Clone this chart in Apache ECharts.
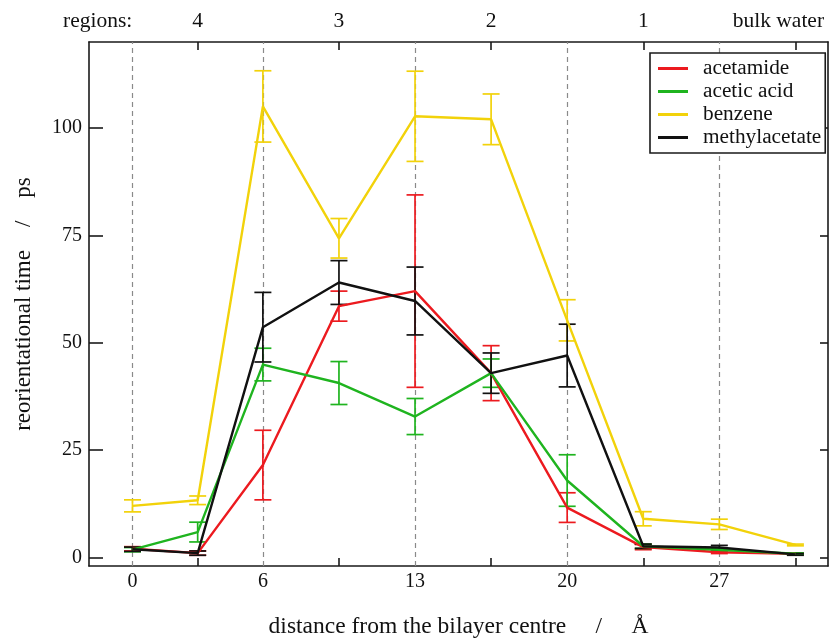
<!DOCTYPE html>
<html>
<head>
<meta charset="utf-8">
<script src="https://cdn.jsdelivr.net/npm/echarts@6/dist/echarts.min.js"></script>
<style>html,body{margin:0;padding:0;background:#fff}#c{width:830px;height:639px}</style>
</head>
<body>
<div id="c"></div>
<script>
// distance from bilayer centre (Å)
const xs = [0, 3, 6, 9.5, 13, 16.5, 20, 23.5, 27, 30.5];
const seriesNames = ['acetamide', 'acetic acid', 'benzene', 'methylacetate'];
// reorientational time (ps)
const acetamide     = [2.0, 1.0, 21.5, 58.5, 62.0, 42.9, 11.6, 2.4, 1.2, 0.85];
const acetamideErr  = [0.5, 0.5, 8.1, 3.5, 22.4, 6.4, 3.45, 0.6, 0.3, 0.2];
const aceticAcid    = [1.8, 5.9, 44.9, 40.6, 32.8, 42.9, 17.9, 2.6, 1.8, 0.85];
const aceticAcidErr = [0.5, 2.3, 3.8, 5.0, 4.2, 3.3, 6.0, 0.5, 0.3, 0.2];
const benzene       = [12.0, 13.3, 105.0, 74.3, 102.7, 102.0, 55.2, 9.0, 7.7, 2.9];
const benzeneErr    = [1.4, 1.0, 8.3, 4.6, 10.5, 5.9, 4.8, 1.65, 1.2, 0.2];
const methylacetate = [1.9, 1.0, 53.6, 64.0, 59.7, 42.9, 47.0, 2.6, 2.3, 0.7];
const methylacetateErr = [0.5, 0.5, 8.1, 5.1, 7.9, 4.7, 7.3, 0.5, 0.5, 0.2];

// axis ticks / labels
const xLabelValues = [0, 6, 13, 20, 27];
const xTickValues = [3, 9.5, 16.5, 23.5, 30.5];
const regionValues = [-1.6, 3, 9.5, 16.5, 23.5, 30.5];
const regionLabels = ['regions:', '4', '3', '2', '1', 'bulk water'];
const yTickValues = [0, 25, 50, 75, 100];
const dashedLines = [0, 6, 13, 20, 27];

const colors = ['#ec1a1f', '#1fb41f', '#f2d20a', '#111111'];
const values = [acetamide, aceticAcid, benzene, methylacetate];
const errs = [acetamideErr, aceticAcidErr, benzeneErr, methylacetateErr];

const FONT = '"Liberation Serif", "DejaVu Serif", serif';
const chart = echarts.init(document.getElementById('c'), null, {renderer: 'canvas'});

const series = [];
seriesNames.forEach((name, k) => {
  series.push({
    name: name + ' error',
    type: 'custom',
    xAxisIndex: 0, yAxisIndex: 0,
    silent: true,
    z: 2 + k,
    data: xs.map((x, i) => [x, values[k][i] - errs[k][i], values[k][i] + errs[k][i]]),
    encode: {x: 0, y: [1, 2]},
    renderItem: function (params, api) {
      const x = api.value(0);
      const lo = api.coord([x, api.value(1)]);
      const hi = api.coord([x, api.value(2)]);
      const w = 8.5;
      const st = {stroke: colors[k], lineWidth: 1.7, fill: null};
      return {type: 'group', children: [
        {type: 'line', shape: {x1: lo[0], y1: lo[1], x2: hi[0], y2: hi[1]}, style: st},
        {type: 'line', shape: {x1: hi[0] - w, y1: hi[1], x2: hi[0] + w, y2: hi[1]}, style: st},
        {type: 'line', shape: {x1: lo[0] - w, y1: lo[1], x2: lo[0] + w, y2: lo[1]}, style: st}
      ]};
    }
  });
});
seriesNames.forEach((name, k) => {
  const s = {
    name: name,
    type: 'line',
    xAxisIndex: 0, yAxisIndex: 0,
    data: xs.map((x, i) => [x, values[k][i]]),
    showSymbol: false,
    symbol: 'none',
    z: 10 + k,
    lineStyle: {color: colors[k], width: 2.4},
    itemStyle: {color: colors[k]},
    animation: false
  };
  if (k === 0) {
    s.markLine = {
      silent: true,
      symbol: ['none', 'none'],
      label: {show: false},
      z: 1,
      lineStyle: {color: '#8a8a8a', type: [5, 4], width: 1.2},
      data: dashedLines.map(v => ({xAxis: v}))
    };
  }
  series.push(s);
});

const axisLineStyle = {color: '#1a1a1a', width: 1.6};
const option = {
  animation: false,
  backgroundColor: '#ffffff',
  textStyle: {fontFamily: FONT},
  grid: {left: 89, right: 2, top: 42, bottom: 73, containLabel: false, outerBoundsMode: 'none'},
  legend: {
    data: seriesNames,
    orient: 'vertical',
    left: 650, top: 53,
    backgroundColor: '#ffffff',
    borderColor: '#1a1a1a',
    borderWidth: 1.6,
    borderRadius: 0,
    padding: [5, 4, 5, 8],
    itemGap: 2,
    itemWidth: 30,
    itemHeight: 3,
    icon: 'rect',
    textStyle: {fontFamily: FONT, fontSize: 21.3, color: '#111', lineHeight: 21, padding: [0, 0, 0, 10]}
  },
  xAxis: [
    {
      type: 'value', position: 'bottom', min: -2, max: 32,
      name: 'distance from the bilayer centre     /     Å',
      nameLocation: 'middle', nameGap: 49,
      nameTextStyle: {fontFamily: FONT, fontSize: 23.5, color: '#111'},
      axisLine: {show: true, onZero: false, lineStyle: axisLineStyle},
      axisTick: {show: true, inside: true, length: 8, customValues: xTickValues, lineStyle: axisLineStyle},
      axisLabel: {show: true, customValues: xLabelValues, fontFamily: FONT, fontSize: 20, color: '#111', margin: 6},
      splitLine: {show: false}
    },
    {
      type: 'value', position: 'top', min: -2, max: 32,
      axisLine: {show: true, onZero: false, lineStyle: axisLineStyle},
      axisTick: {show: true, inside: true, length: 8, customValues: xTickValues, lineStyle: axisLineStyle},
      axisLabel: {
        show: true, customValues: regionValues, fontFamily: FONT, fontSize: 21.5, color: '#111', margin: 10,
        formatter: function (v) {
          const i = regionValues.indexOf(v);
          const t = i >= 0 ? regionLabels[i] : '';
          return i === regionValues.length - 1 ? '{bw|' + t + '}' : t;
        },
        rich: {bw: {fontFamily: FONT, fontSize: 21.5, color: '#111', padding: [0, 34, 0, 0]}}
      },
      splitLine: {show: false}
    }
  ],
  yAxis: [
    {
      type: 'value', position: 'left', min: -2, max: 120,
      name: 'reorientational time    /    ps',
      nameLocation: 'middle', nameGap: 54,
      nameTextStyle: {fontFamily: FONT, fontSize: 23, color: '#111'},
      axisLine: {show: true, onZero: false, lineStyle: axisLineStyle},
      axisTick: {show: true, inside: true, length: 14, customValues: yTickValues, lineStyle: axisLineStyle},
      axisLabel: {show: true, customValues: yTickValues, fontFamily: FONT, fontSize: 20, color: '#111', margin: 7},
      splitLine: {show: false}
    },
    {
      type: 'value', position: 'right', min: -2, max: 120,
      axisLine: {show: true, onZero: false, lineStyle: axisLineStyle},
      axisTick: {show: true, inside: true, length: 8, customValues: yTickValues, lineStyle: axisLineStyle},
      axisLabel: {show: false},
      splitLine: {show: false}
    }
  ],
  series: series
};
chart.setOption(option);
</script>
</body>
</html>
